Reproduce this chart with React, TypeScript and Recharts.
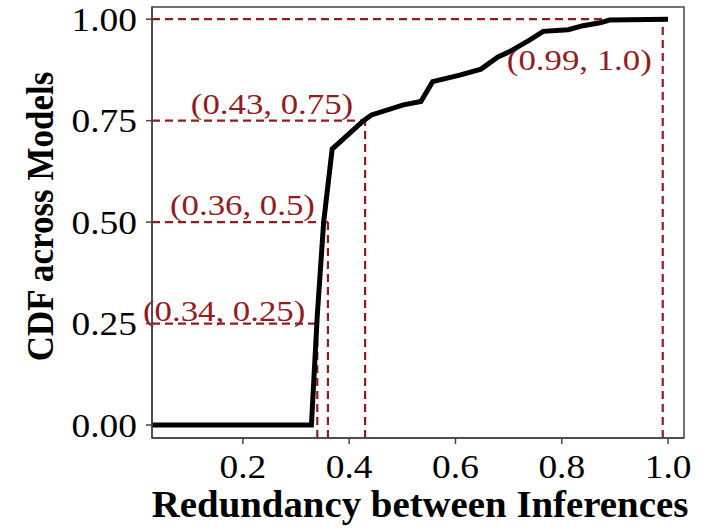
import { Line, LineChart, ReferenceArea, ReferenceDot, ReferenceLine, XAxis, YAxis } from "recharts";

// CDF curve
const redundancy = [0.029, 0.329, 0.34, 0.352, 0.368, 0.427, 0.442, 0.502, 0.535, 0.557, 0.608, 0.648, 0.68, 0.702, 0.74, 0.765, 0.812, 0.84, 0.872, 0.89, 1.0];
const cdfValues = [0, 0, 0.27, 0.5, 0.68, 0.75, 0.764, 0.789, 0.797, 0.846, 0.862, 0.877, 0.907, 0.92, 0.949, 0.97, 0.974, 0.984, 0.991, 0.998, 1.0];

// marked percentiles
const markX = [0.34, 0.36, 0.43, 0.99];
const markY = [0.25, 0.5, 0.75, 1.0];
const markLabels = ["(0.34, 0.25)", "(0.36, 0.5)", "(0.43, 0.75)", "(0.99, 1.0)"];

const xTicks = [0.2, 0.4, 0.6, 0.8, 1.0];
const yTicks = [0, 0.25, 0.5, 0.75, 1.0];

const X_DOMAIN: [number, number] = [0.029, 1.03];
const Y_DOMAIN: [number, number] = [-0.032, 1.03];

const data = redundancy.map((x, i) => ({ x, cdf: cdfValues[i] }));

const FONT = '"Liberation Serif", "Times New Roman", serif';
const RED = "#921c1f";
const AXIS = "#444";

// label placement relative to each marked point (dx, baseline dy)
const labelOffsets = [
  { dx: -12, dy: -3 },
  { dx: -13, dy: -7 },
  { dx: -12, dy: -7 },
  { dx: -11, dy: 51 },
];

function XTick({ x, y, payload }: any) {
  return (
    <text transform={`translate(${x},${y + 32}) scale(1.1,1)`} textAnchor="middle" fontFamily={FONT} fontSize={34} fill="#000">
      {Number(payload.value).toFixed(1)}
    </text>
  );
}

function YTick({ x, y, payload }: any) {
  return (
    <text transform={`translate(${x},${y + 11.5}) scale(1.1,1)`} textAnchor="end" fontFamily={FONT} fontSize={34} fill="#000">
      {Number(payload.value).toFixed(2)}
    </text>
  );
}

function markLabel(i: number) {
  return (props: any) => {
    const vb = props.viewBox || {};
    const cx = vb.x + (vb.width || 0) / 2;
    const cy = vb.y + (vb.height || 0) / 2;
    const o = labelOffsets[i];
    return (
      <text transform={`translate(${cx + o.dx},${cy + o.dy}) scale(1.2,1)`} textAnchor="end" fontFamily={FONT} fontSize={29} fill={RED}>
        {markLabels[i]}
      </text>
    );
  };
}

export default function App() {
  return (
    <div style={{ position: "absolute", left: 0, top: 0, background: "#fff" }}>
      <LineChart width={704} height={529} data={data} margin={{ top: 7, right: 20, left: 0, bottom: 0 }}>
        <XAxis
          type="number"
          dataKey="x"
          domain={X_DOMAIN}
          ticks={xTicks}
          allowDataOverflow
          height={91}
          tickSize={6}
          tickMargin={2}
          tick={<XTick />}
          stroke={AXIS}
          strokeWidth={1.5}
          label={{
            content: (p: any) => {
              const vb = p.viewBox;
              return (
                <text transform={`translate(${vb.x + vb.width / 2 + 2},${vb.y + 79}) scale(1.05,1)`} textAnchor="middle" fontFamily={FONT} fontWeight="bold" fontSize={37} fill="#000">
                  Redundancy between Inferences
                </text>
              );
            },
          }}
        />
        <YAxis
          type="number"
          domain={Y_DOMAIN}
          ticks={yTicks}
          allowDataOverflow
          width={152}
          tickSize={6}
          tickMargin={9}
          tick={<YTick />}
          stroke={AXIS}
          strokeWidth={1.5}
          label={{
            content: (p: any) => {
              const vb = p.viewBox;
              return (
                <text transform={`translate(53,${vb.y + vb.height / 2 - 6}) scale(1.1,1) rotate(-90)`} textAnchor="middle" fontFamily={FONT} fontWeight="bold" fontSize={35} fill="#000">
                  CDF across Models
                </text>
              );
            },
          }}
        />
        <ReferenceArea x1={X_DOMAIN[0]} x2={X_DOMAIN[1]} y1={Y_DOMAIN[0]} y2={Y_DOMAIN[1]} fill="none" fillOpacity={0} stroke={AXIS} strokeWidth={1.5} />
        {markX.map((mx, i) => (
          <ReferenceLine
            key={`h${i}`}
            segment={[{ x: X_DOMAIN[0], y: markY[i] }, { x: mx, y: markY[i] }]}
            stroke={RED}
            strokeWidth={2.2}
            strokeDasharray="8 5"
          />
        ))}
        {markX.map((mx, i) => (
          <ReferenceLine
            key={`v${i}`}
            segment={[{ x: mx, y: Y_DOMAIN[0] }, { x: mx, y: markY[i] }]}
            stroke={RED}
            strokeWidth={2.2}
            strokeDasharray="8 5"
          />
        ))}
        <Line
          type="linear"
          dataKey="cdf"
          stroke="#000"
          strokeWidth={5}
          dot={false}
          activeDot={false}
          isAnimationActive={false}
        />
        {markX.map((mx, i) => (
          <ReferenceDot key={`d${i}`} x={mx} y={markY[i]} r={1} fill="none" stroke="none" label={{ content: markLabel(i) }} />
        ))}
      </LineChart>
    </div>
  );
}
